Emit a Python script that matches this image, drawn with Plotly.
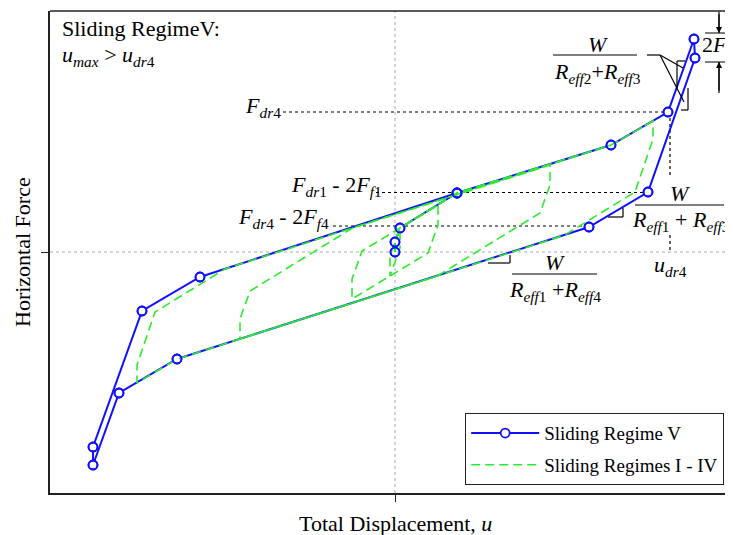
import plotly.graph_objects as go

# ---------------- data (u: displacement, F: force; arbitrary units) ----------------
# Sliding Regime V (full loop, blue with circle markers)
regime5_u = [0.0, 0.0, 0.5, 6.2, 21.6, 27.3, 29.9, 30.0, 25.3, 19.4, -21.8, -27.6, -30.2, -30.2, -25.3, -19.5, 6.2]
regime5_F = [0.0, 1.0, 2.4, 5.9, 10.7, 14.0, 21.3, 19.4, 6.0, 2.5, -10.7, -14.1, -21.3, -19.5, -5.9, -2.5, 5.9]

# Sliding Regimes I - IV (nested loops, green dashed)
regime1_u = [0.0, 0.0, 0.5, 0.5, -0.5, -0.5, 0.5]
regime1_F = [0.0, 1.0, 2.4, 0.4, -2.4, -0.4, 2.4]

regime2_u = [0.0, 0.0, 0.5, 4.3, 4.3, 3.3, -4.3, -4.3, -3.3, 4.3]
regime2_F = [0.0, 1.0, 2.4, 4.7, 2.7, -0.1, -4.7, -2.7, 0.1, 4.7]

regime3_u = [0.0, 0.0, 0.5, 6.2, 15.5, 15.5, 14.5, 4.24, -15.5, -15.5, -14.5, -4.24, 15.5]
regime3_F = [0.0, 1.0, 2.4, 5.9, 8.7, 6.7, 3.9, -2.4, -8.7, -6.7, -3.9, 2.4, 8.7]

regime4_u = [0.0, 0.0, 0.5, 6.2, 21.6, 25.8, 25.8, 24.0, 16.98, -21.8, -25.8, -25.8, -24.0, -16.98, 21.6, 25.8]
regime4_F = [0.0, 1.0, 2.4, 5.9, 10.7, 13.1, 11.3, 6.0, 1.69, -10.7, -13.1, -11.3, -6.0, -1.69, 10.7, 13.1]

# characteristic force / displacement levels used for the dotted guide lines
F_dr4 = 14.0
F_dr1_2Ff1 = 5.95
F_dr4_2Ff4 = 2.6
u_dr4 = 27.5

# ---------------- helpers ----------------
# page pixel -> data coordinates (plot area: x 50..733, y 11..493)
def px_u(x):
    return (x - 395) / 10.0

def px_F(y):
    return (252 - y) / 10.0

SERIF = "Liberation Serif"
BLUE = "#1010ff"
GREEN = "rgb(45,235,45)"
FS = 22

green_u, green_F = [], []
for uu, ff in [(regime1_u, regime1_F), (regime2_u, regime2_F),
               (regime3_u, regime3_F), (regime4_u, regime4_F)]:
    green_u += uu + [None]
    green_F += ff + [None]

fig = go.Figure()
fig.add_trace(go.Scatter(
    x=regime5_u, y=regime5_F, mode="lines+markers", name="Sliding Regime V",
    legendgroup="a",
    line=dict(color=BLUE, width=2),
    marker=dict(symbol="circle", size=9, color="white", line=dict(color=BLUE, width=1.8)),
))
fig.add_trace(go.Scatter(
    x=green_u, y=green_F, mode="lines", name="Sliding Regimes I - IV",
    legendgroup="b",
    line=dict(color=GREEN, width=1.6, dash="9px,5px"),
))
# markers again on top (no legend)
fig.add_trace(go.Scatter(
    x=regime5_u, y=regime5_F, mode="markers", showlegend=False, hoverinfo="skip",
    marker=dict(symbol="circle", size=9, color="rgba(255,255,255,0)", line=dict(color=BLUE, width=1.8)),
))

shapes = []
# zero lines (light grey dotted)
shapes.append(dict(type="line", xref="x", yref="paper", x0=0, x1=0, y0=0, y1=1,
                   line=dict(color="#aaaaaa", width=1, dash="dot"), layer="below"))
shapes.append(dict(type="line", xref="paper", yref="y", x0=0, x1=1, y0=0, y1=0,
                   line=dict(color="#aaaaaa", width=1, dash="dot"), layer="below"))
# top frame line
shapes.append(dict(type="line", xref="paper", yref="paper", x0=0, x1=1, y0=1, y1=1,
                   line=dict(color="#222", width=1.5)))

def dotted(x0, y0, x1, y1):
    shapes.append(dict(type="line", xref="x", yref="y", x0=x0, y0=y0, x1=x1, y1=y1,
                       line=dict(color="black", width=1.2, dash="dot"), layer="below"))

def solid(x0, y0, x1, y1, w=1.2):
    shapes.append(dict(type="line", xref="x", yref="y", x0=x0, y0=y0, x1=x1, y1=y1,
                       line=dict(color="black", width=w)))

# dotted guide lines
dotted(px_u(283), F_dr4, u_dr4, F_dr4)
dotted(px_u(376), F_dr1_2Ff1, px_u(646), F_dr1_2Ff1)
dotted(px_u(333), F_dr4_2Ff4, px_u(587), F_dr4_2Ff4)
dotted(u_dr4, F_dr4, u_dr4, px_F(178))
dotted(u_dr4, px_F(235), u_dr4, 0)

# fraction bars
solid(px_u(553), px_F(55), px_u(637), px_F(55))
solid(px_u(635), px_F(205), px_u(724), px_F(205))
solid(px_u(512), px_F(274), px_u(597), px_F(274))

# leader lines from W/(Reff2+Reff3)
solid(px_u(647), px_F(55), px_u(660), px_F(55))
solid(px_u(660), px_F(55), px_u(683), px_F(68))
solid(px_u(660), px_F(55), px_u(684), px_F(102))
# slope brackets
solid(px_u(677), px_F(61), px_u(685), px_F(61))
solid(px_u(677), px_F(61), px_u(677), px_F(88))
solid(px_u(688), px_F(88), px_u(688), px_F(110))
solid(px_u(681), px_F(110), px_u(688), px_F(110))
solid(px_u(608), px_F(217), px_u(623), px_F(217))
solid(px_u(623), px_F(208), px_u(623), px_F(217))
solid(px_u(488), px_F(263), px_u(510), px_F(263))
solid(px_u(510), px_F(255), px_u(510), px_F(263))
# 2Ff2 reference lines
solid(px_u(705), px_F(33), px_u(740), px_F(33))
solid(px_u(705), px_F(62), px_u(740), px_F(62))
solid(px_u(719), px_F(62), px_u(719), px_F(93))
solid(px_u(719), px_F(12), px_u(719), px_F(33))

ann = []

def text(x, y, t, size=FS, xanchor="center", yanchor="middle", xref="x", yref="y"):
    ann.append(dict(x=x, y=y, xref=xref, yref=yref, text=t, showarrow=False,
                    xanchor=xanchor, yanchor=yanchor,
                    font=dict(family=SERIF, size=size, color="black")))

Fi = "<i>F</i>"
Ri = "<i>R</i>"
text(px_u(60), px_F(28), "Sliding RegimeV:", xanchor="left")
text(px_u(60), px_F(56), "<i>u</i><sub><i>max</i></sub> &gt; <i>u</i><sub><i>dr</i>4</sub>", xanchor="left")
text(px_u(283), px_F(107), Fi + "<sub><i>dr</i>4</sub>", xanchor="right")
text(px_u(384), px_F(186), Fi + "<sub><i>dr</i>1</sub> - 2" + Fi + "<sub><i>f</i>1</sub>", xanchor="right")
text(px_u(331), px_F(218), Fi + "<sub><i>dr</i>4</sub> - 2" + Fi + "<sub><i>f</i>4</sub>", xanchor="right")
text(px_u(670), px_F(266), "<i>u</i><sub><i>dr</i>4</sub>")
# fractions
text(px_u(598), px_F(44), "<i>W</i>")
text(px_u(597), px_F(73), Ri + "<sub><i>eff</i>2</sub>+" + Ri + "<sub><i>eff</i>3</sub>")
text(px_u(680), px_F(193), "<i>W</i>")
text(px_u(681), px_F(221), Ri + "<sub><i>eff</i>1</sub> + " + Ri + "<sub><i>eff</i>3</sub>")
text(px_u(555), px_F(262), "<i>W</i>")
text(px_u(555), px_F(291), Ri + "<sub><i>eff</i>1</sub> +" + Ri + "<sub><i>eff</i>4</sub>")
text(px_u(700), px_F(46), "2" + Fi + "<sub><i>f</i>2</sub>", xanchor="left")
# axis titles
text((22 - 50) / 683, (493 - 252) / 482, "Horizontal Force", xref="paper", yref="paper")
ann[-1]["textangle"] = -90
text((395 - 50) / 683, (493 - 523) / 482, "Total Displacement, <i>u</i>", xref="paper", yref="paper")

# arrows for 2Ff2
for yy, ay in [(33, -20), (62, 30)]:
    ann.append(dict(x=px_u(719), y=px_F(yy), xref="x", yref="y", text="", showarrow=True,
                    ax=0, ay=ay, arrowhead=2, arrowsize=1, arrowwidth=1.2, arrowcolor="black"))

# figure placed at page offset (8, 8) by the default body margin
fig.update_layout(
    width=725, height=527,
    margin=dict(l=42, r=0, t=3, b=42),
    paper_bgcolor="white", plot_bgcolor="white",
    shapes=shapes, annotations=ann,
    showlegend=True,
    legend=dict(x=(465 - 50) / 683, y=(493 - 413) / 482, xanchor="left", yanchor="top",
                bgcolor="white", bordercolor="#222", borderwidth=1.2,
                font=dict(family=SERIF, size=19, color="black"),
                itemwidth=68, tracegroupgap=4),
    xaxis=dict(range=[px_u(50), px_u(733)], showgrid=False, zeroline=False,
               showline=True, linecolor="#222", linewidth=1.5,
               tickvals=[0], ticktext=[""], ticks="outside", ticklen=7, tickcolor="#222"),
    yaxis=dict(range=[px_F(493), px_F(11)], showgrid=False, zeroline=False,
               showline=True, linecolor="#222", linewidth=1.5,
               tickvals=[0], ticktext=[""], ticks="outside", ticklen=7, tickcolor="#222"),
)

fig.write_html("out.html")
